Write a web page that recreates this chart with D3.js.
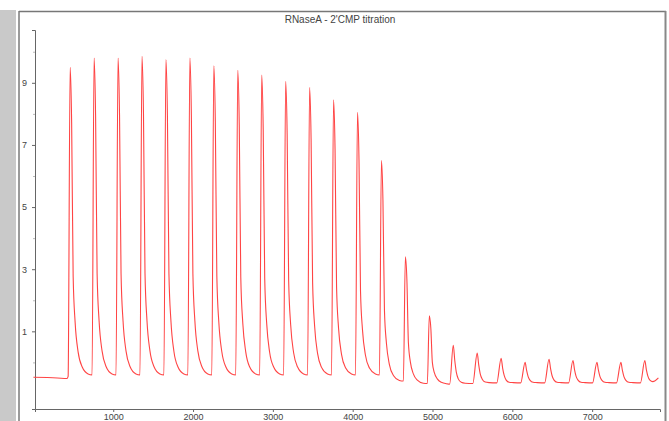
<!DOCTYPE html>
<html>
<head>
<meta charset="utf-8">
<script src="https://cdn.jsdelivr.net/npm/d3@7"></script>
<style>
  body { margin: 0; background: #fff; }
  text { font-family: "Liberation Sans", Arial, sans-serif; }
</style>
</head>
<body>
<div id="container"></div>
<script>
// chart title
var title = "RNaseA - 2'CMP titration";

// tick labels
var xTicks = [1000, 2000, 3000, 4000, 5000, 6000, 7000];
var yTicks = [1, 3, 5, 7, 9];
var yMinor = [0, 2, 4, 6, 8, 10];

// thermogram trace: time (s) and heat rate
var time = [
  0, 300, 420, 435,
  460, 479, 498, 523, 560, 610, 685, 735,
  760, 779, 798, 823, 860, 910, 985, 1035,
  1060, 1079, 1098, 1123, 1160, 1210, 1285, 1335,
  1360, 1379, 1398, 1423, 1460, 1510, 1585, 1635,
  1660, 1679, 1698, 1723, 1760, 1810, 1885, 1935,
  1960, 1979, 1998, 2023, 2060, 2110, 2185, 2235,
  2260, 2279, 2298, 2323, 2360, 2410, 2485, 2535,
  2560, 2579, 2598, 2623, 2660, 2710, 2785, 2835,
  2860, 2879, 2898, 2923, 2960, 3010, 3085, 3135,
  3160, 3179, 3198, 3223, 3260, 3310, 3385, 3435,
  3460, 3479, 3498, 3523, 3560, 3610, 3685, 3735,
  3760, 3779, 3798, 3823, 3860, 3910, 3985, 4035,
  4060, 4079, 4098, 4123, 4160, 4210, 4285, 4335,
  4360, 4379, 4398, 4423, 4460, 4510, 4585, 4635,
  4660, 4679, 4698, 4723, 4760, 4810, 4885, 4935,
  4960, 4979, 4998, 5023, 5060, 5110, 5185, 5215,
  5260, 5279, 5298, 5323, 5360, 5410, 5505,
  5560, 5579, 5598, 5623, 5660, 5710, 5805,
  5860, 5879, 5898, 5923, 5960, 6010, 6105,
  6160, 6179, 6198, 6223, 6260, 6310, 6405,
  6460, 6479, 6498, 6523, 6560, 6610, 6705,
  6760, 6779, 6798, 6823, 6860, 6910, 7005,
  7060, 7079, 7098, 7123, 7160, 7210, 7305,
  7360, 7379, 7398, 7423, 7460, 7510, 7605,
  7660, 7679, 7698, 7723, 7760, 7830
];
var heat = [
  -0.48, -0.5, -0.52, -0.45,
  9.5, 7.72, 2.77, 1.28, 0.34, -0.14, -0.37, -0.4,
  9.8, 7.96, 2.86, 1.33, 0.37, -0.13, -0.37, -0.4,
  9.8, 7.96, 2.86, 1.33, 0.37, -0.13, -0.37, -0.4,
  9.85, 8.0, 2.88, 1.34, 0.37, -0.13, -0.37, -0.4,
  9.75, 7.92, 2.85, 1.33, 0.36, -0.14, -0.37, -0.4,
  9.8, 7.96, 2.86, 1.33, 0.37, -0.13, -0.37, -0.4,
  9.55, 7.76, 2.78, 1.29, 0.35, -0.14, -0.37, -0.4,
  9.4, 7.64, 2.74, 1.27, 0.34, -0.15, -0.37, -0.4,
  9.25, 7.51, 2.69, 1.24, 0.32, -0.15, -0.37, -0.4,
  9.05, 7.35, 2.62, 1.21, 0.31, -0.15, -0.37, -0.4,
  8.85, 7.19, 2.56, 1.17, 0.29, -0.16, -0.37, -0.4,
  8.45, 6.86, 2.43, 1.1, 0.26, -0.17, -0.37, -0.4,
  8.05, 6.53, 2.3, 1.04, 0.23, -0.18, -0.37, -0.4,
  6.5, 5.22, 1.67, 0.61, -0.07, -0.42, -0.58, -0.6,
  3.4, 2.67, 0.63, 0.01, -0.37, -0.57, -0.67, -0.68,
  1.5, 1.1, 0.0, -0.33, -0.53, -0.64, -0.69, -0.7,
  0.55, 0.06, -0.31, -0.53, -0.64, -0.67, -0.68,
  0.3, -0.08, -0.37, -0.54, -0.63, -0.65, -0.66,
  0.13, -0.19, -0.42, -0.57, -0.64, -0.65, -0.66,
  0.0, -0.26, -0.46, -0.58, -0.64, -0.65, -0.66,
  0.1, -0.2, -0.43, -0.57, -0.64, -0.65, -0.66,
  0.06, -0.23, -0.44, -0.57, -0.64, -0.65, -0.66,
  0.0, -0.26, -0.46, -0.58, -0.64, -0.65, -0.66,
  0.0, -0.26, -0.46, -0.58, -0.64, -0.65, -0.66,
  0.06, -0.23, -0.44, -0.57, -0.62, -0.5
];

var W = 669, H = 421;
var margin = { top: 30, right: 9, bottom: 12, left: 35 },
  width = W - margin.left - margin.right,
  height = H - margin.top - margin.bottom;

var root = d3.select("#container").append("svg")
  .attr("width", W)
  .attr("height", H);

// window frame bits round the plot
root.append("rect").attr("x", 0).attr("y", 10).attr("width", 16).attr("height", H - 10).attr("fill", "#c9c9c9");
root.append("line").attr("x1", 19).attr("x2", 19).attr("y1", 11).attr("y2", H).attr("stroke", "#7a7a7a").attr("stroke-width", 1.5);
root.append("line").attr("x1", 19).attr("x2", 666).attr("y1", 11.5).attr("y2", 11.5).attr("stroke", "#777").attr("stroke-width", 1.5);
root.append("line").attr("x1", 665.5).attr("x2", 665.5).attr("y1", 11).attr("y2", H).attr("stroke", "#888").attr("stroke-width", 2);

root.append("text")
  .attr("x", 340)
  .attr("y", 23)
  .attr("text-anchor", "middle")
  .attr("font-size", 10)
  .attr("fill", "#444")
  .text(title);

var svg = root.append("g")
  .attr("transform", "translate(" + margin.left + "," + margin.top + ")");

var x = d3.scaleLinear().domain([20, 7850]).range([0, width]);
var y = d3.scaleLinear().domain([-1.5, 10.7]).range([height, 0]);

// x axis
var xAxis = svg.append("g")
  .attr("transform", "translate(0," + height + ")")
  .call(d3.axisBottom(x).tickValues(xTicks).tickFormat(d3.format("d")).tickSize(3).tickPadding(2));
xAxis.select(".domain").attr("stroke", "#666");
xAxis.selectAll("line").attr("stroke", "#666");
xAxis.selectAll("text").attr("font-size", 9).attr("fill", "#444");

// y axis
svg.append("g")
  .call(d3.axisLeft(y).tickValues(yMinor).tickSize(2).tickFormat(""))
  .call(function (g) { g.select(".domain").remove(); })
  .selectAll("line").attr("stroke", "#bbb");
var yAxis = svg.append("g")
  .call(d3.axisLeft(y).tickValues(yTicks).tickSize(3).tickPadding(5));
yAxis.select(".domain").attr("stroke", "#666");
yAxis.selectAll("line").attr("stroke", "#666");
yAxis.selectAll("text").attr("font-size", 9).attr("fill", "#444");

var data = time.map(function (t, i) { return { t: t, v: heat[i] }; });

svg.append("path")
  .datum(data)
  .attr("fill", "none")
  .attr("stroke", "#ff4444")
  .attr("stroke-width", 1.1)
  .attr("d", d3.line()
    .curve(d3.curveMonotoneX)
    .x(function (d) { return x(d.t); })
    .y(function (d) { return y(d.v); }));
</script>
</body>
</html>
